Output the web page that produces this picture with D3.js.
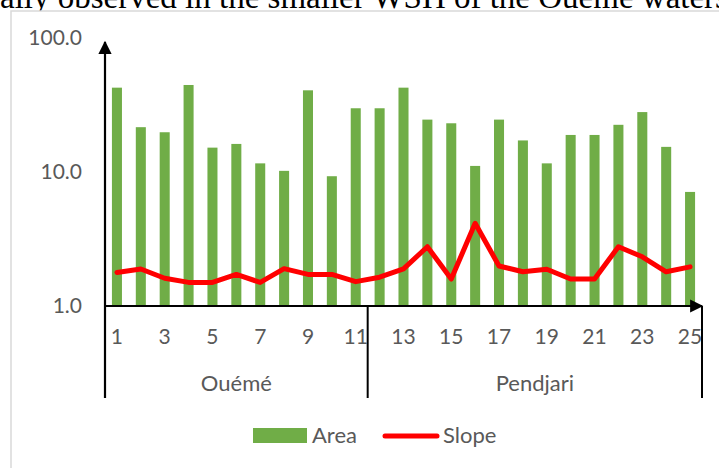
<!DOCTYPE html>
<html>
<head>
<meta charset="utf-8">
<script src="https://cdn.jsdelivr.net/npm/d3@7"></script>
<style>
  body { margin: 0; background: #fff; }
  svg { display: block; }
  .tick-label { font-family: Lato, "Open Sans", sans-serif; fill: #595959; }
</style>
</head>
<body>
<div id="chart"></div>
<script>
// station numbers and the watershed they belong to
const stations = d3.range(1, 26);
const groups = [
  {name: "Ouémé", from: 1, to: 11},
  {name: "Pendjari", from: 12, to: 25}
];
// area (bars) and slope (line), log axis
const areaValues = [42.6, 21.6, 19.8, 44.6, 15.2, 16.2, 11.6, 10.2, 40.7, 9.3, 29.9, 29.9,
  42.6, 24.6, 23.1, 11.1, 24.6, 17.2, 11.6, 18.9, 18.9, 22.5, 28.0, 15.4, 7.1];
const slopeValues = [1.78, 1.89, 1.61, 1.50, 1.50, 1.72, 1.50, 1.90, 1.72, 1.72, 1.52, 1.64,
  1.89, 2.77, 1.59, 4.14, 1.99, 1.80, 1.88, 1.59, 1.59, 2.77, 2.33, 1.80, 1.96];
const yTicks = [1, 10, 100];
const xTickLabels = stations.filter(d => d % 2 === 1);

const W = 719, H = 468;
const svg = d3.select("#chart").append("svg")
  .attr("width", W).attr("height", H);

// cut off caption line from the page above
const cap = svg.append("text")
  .attr("y", 8)
  .style("font-family", "'Liberation Serif', serif")
  .style("font-size", "33px")
  .attr("fill", "#000");
const pre = cap.append("tspan").text("usu");
const preW = pre.node().getComputedTextLength();
pre.remove();
cap.attr("x", -preW).text("usually observed in the smaller WSH of the Ouémé watershed");

// chart frame
svg.append("rect")
  .attr("x", 11).attr("y", 11)
  .attr("width", 760).attr("height", 500)
  .attr("fill", "#fff")
  .attr("stroke", "#d9d9d9")
  .attr("stroke-width", 1.5);

const x0 = 105, x1 = 702, yBase = 306, yTop = 38;

const x = d3.scaleBand()
  .domain(stations)
  .range([x0, x1])
  .paddingInner(0.58)
  .paddingOuter(0.29);

const y = d3.scaleLog()
  .domain([1, 100])
  .range([yBase, yTop]);

const chart = svg.append("g");

// bars
chart.selectAll(".bar")
  .data(areaValues)
  .join("rect")
    .attr("class", "bar")
    .attr("x", (d, i) => x(stations[i]))
    .attr("width", x.bandwidth())
    .attr("y", d => y(d))
    .attr("height", d => y(1) - y(d))
    .attr("fill", "#70ad47");

// slope line
const line = d3.line()
  .x((d, i) => x(stations[i]) + x.bandwidth() / 2)
  .y(d => y(d));

chart.append("path")
  .datum(slopeValues)
  .attr("d", line)
  .attr("fill", "none")
  .attr("stroke", "#ff0000")
  .attr("stroke-width", 5)
  .attr("stroke-linejoin", "round")
  .attr("stroke-linecap", "round");

// y axis labels
const yAxis = d3.axisLeft(y)
  .tickValues(yTicks)
  .tickFormat(d3.format(".1f"))
  .tickSize(0)
  .tickPadding(23);
const yAxisG = svg.append("g")
  .attr("transform", `translate(${x0},0)`)
  .call(yAxis);
yAxisG.select(".domain").remove();
yAxisG.selectAll("text")
  .attr("class", "tick-label")
  .style("font-size", "21px")
  .attr("dy", "0.32em");

// x tick labels
const xAxis = d3.axisBottom(x)
  .tickValues(xTickLabels)
  .tickSize(0)
  .tickPadding(23);
const xAxisG = svg.append("g")
  .attr("transform", `translate(0,${yBase})`)
  .call(xAxis);
xAxisG.select(".domain").remove();
xAxisG.selectAll("text")
  .attr("class", "tick-label")
  .style("font-size", "21px");

// axes with arrows
const defs = svg.append("defs");
defs.append("marker")
  .attr("id", "arrow")
  .attr("viewBox", "0 0 10 10")
  .attr("refX", 9).attr("refY", 5)
  .attr("markerWidth", 7).attr("markerHeight", 6)
  .attr("orient", "auto")
  .attr("markerUnits", "strokeWidth")
  .append("path")
    .attr("d", "M0,0L10,5L0,10Z")
    .attr("fill", "#000");

svg.append("line")
  .attr("x1", x0).attr("y1", yBase + 92)
  .attr("x2", x0).attr("y2", 42)
  .attr("stroke", "#000").attr("stroke-width", 2.2)
  .attr("marker-end", "url(#arrow)");

svg.append("line")
  .attr("x1", x0).attr("y1", yBase)
  .attr("x2", x1).attr("y2", yBase)
  .attr("stroke", "#000").attr("stroke-width", 2.2)
  .attr("marker-end", "url(#arrow)");

// group separators and names
const groupEdges = [x0, x(12) - x.step() * x.paddingInner() / 2, x1];
svg.selectAll(".sep")
  .data(groupEdges.slice(1))
  .join("line")
    .attr("class", "sep")
    .attr("x1", d => d).attr("x2", d => d)
    .attr("y1", yBase).attr("y2", yBase + 92)
    .attr("stroke", "#000").attr("stroke-width", 2);

svg.selectAll(".group-label")
  .data(groups)
  .join("text")
    .attr("class", "tick-label")
    .attr("x", (d, i) => (groupEdges[i] + groupEdges[i + 1]) / 2)
    .attr("y", 391)
    .attr("text-anchor", "middle")
    .style("font-size", "22px")
    .text(d => d.name);

// legend
const legend = svg.append("g").attr("transform", "translate(253,428)");
legend.append("rect")
  .attr("width", 54).attr("height", 15)
  .attr("fill", "#70ad47");
legend.append("text")
  .attr("class", "tick-label")
  .attr("x", 59).attr("y", 15)
  .style("font-size", "22px")
  .text("Area");
legend.append("line")
  .attr("x1", 132).attr("x2", 184)
  .attr("y1", 8).attr("y2", 8)
  .attr("stroke", "#ff0000").attr("stroke-width", 5)
  .attr("stroke-linecap", "round");
legend.append("text")
  .attr("class", "tick-label")
  .attr("x", 190).attr("y", 15)
  .style("font-size", "22px")
  .text("Slope");
</script>
</body>
</html>
